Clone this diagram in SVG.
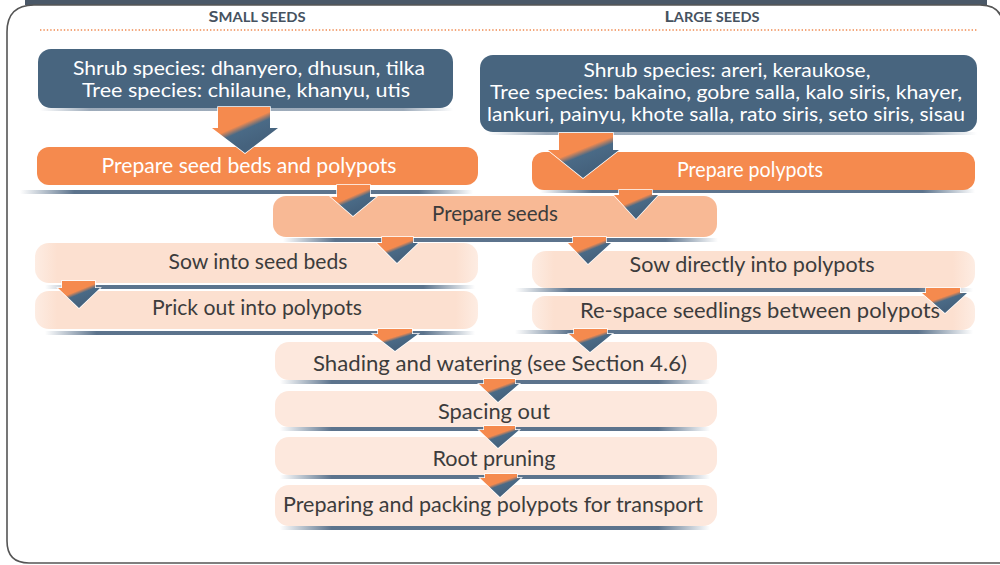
<svg xmlns="http://www.w3.org/2000/svg" width="1000" height="565" viewBox="0 0 1000 565">
<defs>
<linearGradient id="arr" x1="0.25" y1="0.25" x2="0.6" y2="0.8">
<stop offset="0" stop-color="#f58a4e"/><stop offset="0.32" stop-color="#f58a4e"/><stop offset="0.52" stop-color="#4a6a86"/><stop offset="1" stop-color="#45627d"/>
</linearGradient>
<linearGradient id="bar" x1="0" y1="0" x2="1" y2="0">
<stop offset="0" stop-color="#4a6480" stop-opacity="0"/><stop offset="0.12" stop-color="#4a6480" stop-opacity="0.9"/><stop offset="0.88" stop-color="#4a6480" stop-opacity="0.9"/><stop offset="1" stop-color="#4a6480" stop-opacity="0"/>
</linearGradient>
<linearGradient id="pale" x1="0" y1="0" x2="1" y2="0">
<stop offset="0" stop-color="#fce0d0" stop-opacity="0.6"/><stop offset="0.05" stop-color="#fce0d0"/><stop offset="0.95" stop-color="#fce0d0"/><stop offset="1" stop-color="#fce0d0" stop-opacity="0.6"/>
</linearGradient>
</defs>
<style>
.dark{fill:#48657f}
.org{fill:#f58a4e}
.mid{fill:#f8b995}
.pale{fill:url(#pale)}
.pale2{fill:#fde8dd}
.bar{fill:url(#bar)}
.tw{font-family:Lato,"Open Sans",sans-serif;font-size:21px;fill:#ffffff;text-anchor:middle}
.tb{font-family:Lato,"Open Sans",sans-serif;font-size:18.3px;fill:#ffffff;text-anchor:middle}
.td{font-family:Lato,"Open Sans",sans-serif;font-size:21px;fill:#3c3c3c;text-anchor:middle}
.hd{font-family:Lato,"Open Sans",sans-serif;font-weight:bold;fill:#46525f;text-anchor:middle}
.arrow{fill:url(#arr);stroke:#ffffff;stroke-width:1.5;paint-order:stroke}
</style>
<rect width="1000" height="565" fill="#ffffff"/>
<rect x="25" y="-2" width="962" height="7" fill="#4a5868"/>
<path d="M1003,24 Q1001,5 980,5 L34,5 Q7,5 7,32 L7,541 Q7,563 29,563 L1003,563" fill="none" stroke="#555" stroke-width="1.6"/>
<g id="headers">
<text class="hd" x="257" y="22" textLength="97" lengthAdjust="spacingAndGlyphs"><tspan font-size="16">S</tspan><tspan font-size="13">MALL SEEDS</tspan></text>
<text class="hd" x="712" y="22" textLength="95" lengthAdjust="spacingAndGlyphs"><tspan font-size="16">L</tspan><tspan font-size="13">ARGE SEEDS</tspan></text>
<line x1="40" y1="30" x2="977" y2="30" stroke="#f08a50" stroke-width="1.6" stroke-dasharray="1.4 2"/>
</g>
<g id="small-species">
<rect class="bar" x="40" y="108" width="413" height="3" opacity="0.6"/>
<rect class="dark" x="38" y="49" width="415" height="59" rx="13"/>
<text class="tb" x="249" y="75" textLength="352" lengthAdjust="spacingAndGlyphs">Shrub species: dhanyero, dhusun, tilka</text>
<text class="tb" x="246" y="97" textLength="328" lengthAdjust="spacingAndGlyphs">Tree species: chilaune, khanyu, utis</text>
</g>
<g id="large-species">
<rect class="bar" x="488" y="132" width="489" height="3" opacity="0.6"/>
<rect class="dark" x="480" y="55" width="497" height="77" rx="13"/>
<text class="tb" x="727" y="77" textLength="287" lengthAdjust="spacingAndGlyphs">Shrub species: areri, keraukose,</text>
<text class="tb" x="726" y="99" textLength="472" lengthAdjust="spacingAndGlyphs">Tree species: bakaino, gobre salla, kalo siris, khayer,</text>
<text class="tb" x="726" y="121" textLength="478" lengthAdjust="spacingAndGlyphs">lankuri, painyu, khote salla, rato siris, seto siris, sisau</text>
</g>
<g id="prepare-beds">
<rect class="bar" x="20" y="190" width="453" height="4"/>
<rect class="org" x="37" y="147" width="441" height="38" rx="12"/>
<text class="tw" x="249" y="173" textLength="295" lengthAdjust="spacingAndGlyphs">Prepare seed beds and polypots</text>
</g>
<g id="prepare-polypots">
<rect class="bar" x="540" y="189" width="435" height="4"/>
<rect class="org" x="532" y="152" width="443" height="38" rx="12"/>
<text class="tw" x="750" y="177" textLength="146" lengthAdjust="spacingAndGlyphs">Prepare polypots</text>
</g>
<g id="prepare-seeds">
<rect class="bar" x="283" y="238" width="435" height="4"/>
<rect class="mid" x="273" y="196" width="444" height="41" rx="13"/>
<text class="td" x="495" y="221" textLength="126" lengthAdjust="spacingAndGlyphs">Prepare seeds</text>
</g>
<g id="sow-beds">
<rect class="bar" x="45" y="285" width="430" height="4"/>
<rect class="pale" x="35" y="243" width="443" height="40" rx="14"/>
<text class="td" x="258" y="269" textLength="179" lengthAdjust="spacingAndGlyphs">Sow into seed beds</text>
</g>
<g id="prick-out">
<rect class="bar" x="45" y="331" width="430" height="4"/>
<rect class="pale" x="35" y="291" width="443" height="38" rx="14"/>
<text class="td" x="257" y="315" textLength="210" lengthAdjust="spacingAndGlyphs">Prick out into polypots</text>
</g>
<g id="sow-direct">
<rect class="bar" x="515" y="288" width="458" height="4"/>
<rect class="pale" x="532" y="251" width="443" height="37" rx="14"/>
<text class="td" x="752" y="272" textLength="245" lengthAdjust="spacingAndGlyphs">Sow directly into polypots</text>
</g>
<g id="re-space">
<rect class="bar" x="515" y="330" width="458" height="4"/>
<rect class="pale" x="532" y="296" width="443" height="34" rx="13"/>
<text class="td" x="760" y="318" textLength="360" lengthAdjust="spacingAndGlyphs">Re-space seedlings between polypots</text>
</g>
<g id="shading">
<rect class="bar" x="280" y="380" width="430" height="4"/>
<rect class="pale2" x="275" y="342" width="442" height="38" rx="14"/>
<text class="td" x="500" y="371" textLength="374" lengthAdjust="spacingAndGlyphs">Shading and watering (see Section 4.6)</text>
</g>
<g id="spacing">
<rect class="bar" x="280" y="427" width="430" height="4"/>
<rect class="pale2" x="275" y="391" width="442" height="36" rx="14"/>
<text class="td" x="494" y="419" textLength="112" lengthAdjust="spacingAndGlyphs">Spacing out</text>
</g>
<g id="root-pruning">
<rect class="bar" x="280" y="475" width="430" height="4"/>
<rect class="pale2" x="275" y="437" width="442" height="38" rx="14"/>
<text class="td" x="494" y="466" textLength="123" lengthAdjust="spacingAndGlyphs">Root pruning</text>
</g>
<g id="packing">
<rect class="bar" x="280" y="526" width="430" height="4"/>
<rect class="pale2" x="275" y="485" width="442" height="41" rx="14"/>
<text class="td" x="493" y="512" textLength="420" lengthAdjust="spacingAndGlyphs">Preparing and packing polypots for transport</text>
</g>
<g id="connectors">
<path class="arrow" d="M218,107 L270,107 L270,128 L278,128 L245,153 L212,128 L218,128 Z"/>
<path class="arrow" d="M559,133 L613,133 L613,150 L619,150 L583,178 L548,150 L559,150 Z"/>
<path class="arrow" d="M337,185 L370,185 L370,197 L376,197 L353,216 L331,197 L337,197 Z"/>
<path class="arrow" d="M619,190 L652,190 L652,195 L658,195 L636,219 L614,195 L619,195 Z"/>
<path class="arrow" d="M382,237 L413,237 L413,243 L418,243 L397,263 L377,243 L382,243 Z"/>
<path class="arrow" d="M573,237 L606,237 L606,243 L611,243 L588,264 L568,243 L573,243 Z"/>
<path class="arrow" d="M62,281 L95,281 L95,288 L100,288 L79,308 L58,288 L62,288 Z"/>
<path class="arrow" d="M926,288 L960,288 L960,293 L967,293 L945,313 L922,293 L926,293 Z"/>
<path class="arrow" d="M378,329 L412,329 L412,334 L418,334 L395,351 L373,334 L378,334 Z"/>
<path class="arrow" d="M574,329 L607,329 L607,334 L612,334 L590,352 L569,334 L574,334 Z"/>
<path class="arrow" d="M484,379 L515,379 L515,384 L519,384 L498,402 L479,384 L484,384 Z"/>
<path class="arrow" d="M484,426 L515,426 L515,430 L519,430 L498,448 L479,430 L484,430 Z"/>
<path class="arrow" d="M485,474 L517,474 L517,478 L521,478 L500,497 L480,478 L485,478 Z"/>
</g>
</svg>
